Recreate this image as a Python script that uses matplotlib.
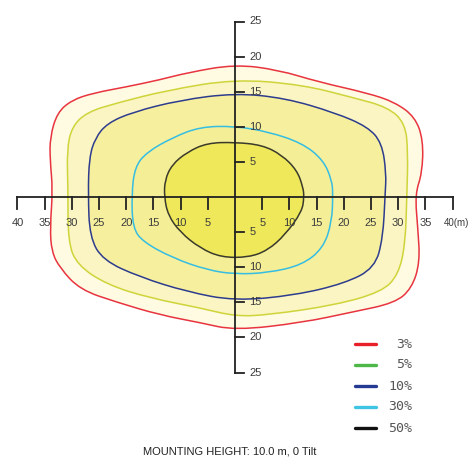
import matplotlib.pyplot as plt
from matplotlib.path import Path
from matplotlib.patches import PathPatch

# -------- DATA (metres) --------
LEVELS = ["3%", "5%", "10%", "30%", "50%"]

# isolux contours, going round counter-clockwise from top centre
C3_X = [0, -8.8, -13.8, -19.9, -26.1, -30.0, -32.7, -34.0, -34.0, -33.5, -34.0, -33.7, -32.2, -28.5,
        -21.7, -13.8, -6.4, 0, 12.3, 21.5, 29.4, 32.5, 34.0, 33.6, 33.1, 34.4, 34.6, 33.1, 29.4, 24.4, 15.3, 8.0]
C3_Y = [18.9, 17.7, 16.7, 15.7, 14.8, 13.8, 12.0, 8.5, 5.3, 1.0, -4.4, -7.8, -10.1, -13.2,
        -15.0, -16.8, -17.9, -19.0, -17.9, -16.4, -15.1, -13.0, -9.3, -4.4, 0.4, 3.4, 8.1, 11.4, 13.5, 14.8, 16.4, 18.1]

C5_X = [0, -12.5, -21.7, -27.2, -30.0, -30.9, -30.7, -30.7, -29.0, -23.5, -15.6, -6.4, 0,
        6.1, 18.4, 27.0, 30.0, 31.3, 31.6, 31.8, 31.3, 28.1, 21.5, 12.3]
C5_Y = [16.8, 15.2, 13.4, 12.1, 10.0, 6.7, 1.4, -6.4, -9.7, -12.5, -14.4, -15.8, -17.0,
        -16.8, -15.4, -13.5, -11.1, -6.8, 0.4, 6.3, 10.5, 12.8, 14.2, 16.0]

C10_X = [0, -10.1, -18.8, -23.5, -25.7, -26.8, -27.0, -26.7, -24.3, -17.5, -8.8, 0,
         11.0, 20.2, 25.7, 27.2, 27.6, 27.8, 27.0, 24.4, 18.4, 9.2]
C10_Y = [14.8, 13.8, 12.1, 10.5, 8.4, 5.6, 0.4, -5.7, -9.0, -11.4, -13.5, -14.8,
         -14.0, -12.3, -10.1, -5.8, 0.4, 3.4, 7.7, 10.0, 12.0, 14.1]

C30_X = [0, -6.4, -11.4, -16.2, -18.4, -19.0, -18.8, -16.9, -11.4, -5.1, 0,
         6.1, 12.3, 16.2, 17.8, 18.0, 17.8, 16.2, 12.3, 6.1]
C30_Y = [10.1, 10.0, 8.5, 6.4, 4.3, 0.4, -4.4, -6.4, -8.7, -10.4, -11.0,
         -10.8, -9.7, -7.3, -3.6, 0.4, 2.4, 5.3, 7.7, 9.3]

C50_X = [0, -5.1, -8.8, -11.6, -12.9, -13.0, -12.3, -10.1, -6.4, -2.5, 2.5,
         6.0, 9.2, 12.3, 12.7, 12.5, 11.4, 8.6, 5.0]
C50_Y = [7.8, 7.7, 6.4, 4.6, 2.4, 0, -2.6, -5.0, -7.3, -8.6, -8.6,
         -7.6, -5.4, -2.1, 0, 1.4, 3.8, 6.0, 7.4]

X_TICKS = [-40, -35, -30, -25, -20, -15, -10, -5, 5, 10, 15, 20, 25, 30, 35, 40]
X_LABELS = ["40", "35", "30", "25", "20", "15", "10", "5", "5", "10", "15", "20", "25", "30", "35", "40(m)"]
Y_TICKS = [25, 20, 15, 10, 5, -5, -10, -15, -20, -25]
Y_LABELS = ["25", "20", "15", "10", "5", "5", "10", "15", "20", "25"]

CAPTION = "MOUNTING HEIGHT: 10.0 m, 0 Tilt"

# -------- STYLE --------
FILL_COLORS = ["#fefbe2", "#faf5c2", "#f6f09e", "#f4ee96", "#eee85a"]
LINE_COLORS = ["#e8343f", "#cfd43a", "#2e3c8e", "#36bde2", "#3a3a2c"]
LEGEND_COLORS = ["#e8202a", "#4db848", "#253a93", "#40c4e4", "#111111"]
AXIS_COLOR = "#222222"
TEXT_COLOR = "#3c3c3c"
PX_X = 5.44   # pixels per metre, horizontal
PX_Y = 7.02   # pixels per metre, vertical


def smooth_loop(xs, ys):
    # closed quadratic b-spline: the read points act as control points
    n = len(xs)
    mids = [((xs[i] + xs[(i + 1) % n]) / 2, (ys[i] + ys[(i + 1) % n]) / 2) for i in range(n)]
    verts = [mids[-1]]
    codes = [Path.MOVETO]
    for i in range(n):
        verts += [(xs[i], ys[i]), mids[i]]
        codes += [Path.CURVE3, Path.CURVE3]
    return Path(verts, codes)


contours = [(C3_X, C3_Y), (C5_X, C5_Y), (C10_X, C10_Y), (C30_X, C30_Y), (C50_X, C50_Y)]

fig = plt.figure(figsize=(4.71, 4.58), dpi=100)
ax = fig.add_axes([0, 0, 1, 1])
ax.set_xlim(-235 / PX_X, 236 / PX_X)
ax.set_ylim(-261 / PX_Y, 197 / PX_Y)
ax.axis("off")

for (cx, cy), fc, lc in zip(contours, FILL_COLORS, LINE_COLORS):
    path = smooth_loop(cx, cy)
    ax.add_patch(PathPatch(path, facecolor=fc, edgecolor="none", zorder=1))
    ax.add_patch(PathPatch(path, facecolor="none", edgecolor=lc, lw=1.1, zorder=2))

# axes cross
ax.plot([-40, 40], [0, 0], color=AXIS_COLOR, lw=1.3, zorder=3)
ax.plot([0, 0], [-25, 25], color=AXIS_COLOR, lw=1.3, zorder=3)
for xt, lab in zip(X_TICKS, X_LABELS):
    ax.plot([xt, xt], [0, -1.7], color=AXIS_COLOR, lw=1.3, zorder=3)
    if lab.endswith("(m)"):
        ax.text(xt - 1.6, -3.75, lab, ha="left", va="center", fontsize=7,
                color=TEXT_COLOR, family="Liberation Sans", zorder=4)
    else:
        ax.text(xt, -3.75, lab, ha="center", va="center", fontsize=8,
                color=TEXT_COLOR, family="Liberation Sans", zorder=4)
for yt, lab in zip(Y_TICKS, Y_LABELS):
    ax.plot([0, 1.65], [yt, yt], color=AXIS_COLOR, lw=1.3, zorder=3)
    ax.text(2.6, yt, lab, ha="left", va="center", fontsize=8,
            color=TEXT_COLOR, family="Liberation Sans", zorder=4)

# legend, drawn by hand like the original sheet
leg_y0 = (197 - 344) / PX_Y
leg_step = 21 / PX_Y
for i, (lab, col) in enumerate(zip(LEVELS, LEGEND_COLORS)):
    y = leg_y0 - i * leg_step
    ax.plot([120 / PX_X, 141 / PX_X], [y, y], color=col, lw=2.4, solid_capstyle="round", zorder=4)
    ax.text(177 / PX_X, y, lab, ha="right", va="center", fontsize=9.5,
            color="#555555", family="DejaVu Sans Mono", zorder=4)

ax.text(-5 / PX_X, (197 - 452) / PX_Y, CAPTION, ha="center", va="center",
        fontsize=8, color="#222222", family="Liberation Sans")

fig.savefig("out.png", dpi=100)
